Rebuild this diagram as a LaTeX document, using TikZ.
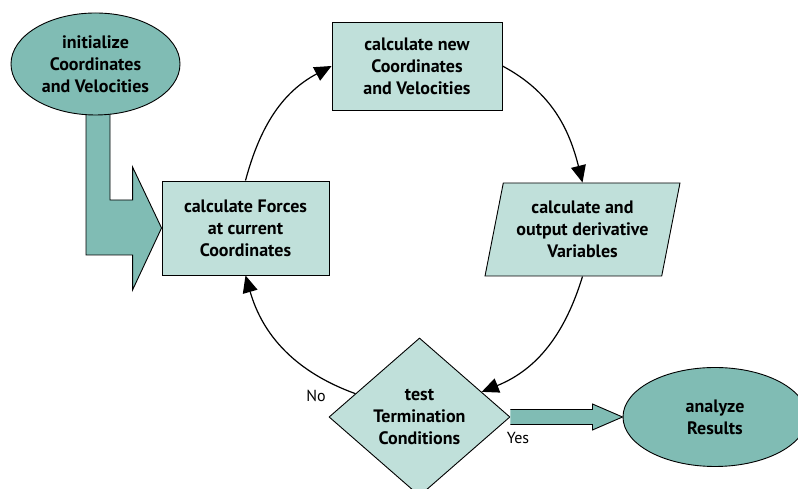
\documentclass[tikz,border=0pt]{standalone}
\usepackage{fontspec}
\setmainfont{PT Sans}
\usetikzlibrary{shapes.geometric,arrows.meta,calc}
\definecolor{darkteal}{RGB}{128,188,180}
\definecolor{lightteal}{RGB}{192,224,218}
\tikzset{
  base/.style={draw=black, line width=0.9pt, align=center, font=\fontsize{18}{22}\selectfont\bfseries, inner sep=0pt},
  oval/.style={base, ellipse, fill=darkteal},
  procbox/.style={base, rectangle, fill=lightteal},
  iobox/.style={base, trapezium, trapezium left angle=75, trapezium right angle=105, trapezium stretches=true, fill=lightteal},
  decision/.style={base, diamond, fill=lightteal},
  flow/.style={draw=black, line width=1.2pt, -{Triangle[length=17pt,width=15pt]}},
  blockarrow/.style={draw=black, line width=0.9pt, fill=darkteal, line join=miter},
  lbl/.style={font=\fontsize{16}{18}\selectfont, inner sep=0pt}
}
\begin{document}
\begin{tikzpicture}[x=1pt,y=1pt]
\useasboundingbox (0,0) rectangle (798,489);
\clip (0,0) rectangle (798,489);
% nodes
\node[procbox, minimum width=167pt, minimum height=94pt] (forces) at (245.5,261) {calculate Forces\\at current\\Coordinates};
\node[procbox, minimum width=170pt, minimum height=88pt] (new) at (417,423) {calculate new\\Coordinates\\and Velocities};
\node[iobox, minimum width=195pt, minimum height=93pt] (par) at (582.5,259.5) {calculate and\\output derivative\\Variables};
\node[decision, minimum width=181pt, minimum height=158pt] (diam) at (419.5,72) {test\\Termination\\Conditions};
% L-shaped block arrow from init to forces
\path (forces.west) coordinate (tipL);
\draw[blockarrow] (86,400) -- (110,400) -- (110,289) -- ($(tipL)+(-29,28)$) -- ($(tipL)+(-29,61)$) -- (tipL) -- ($(tipL)+(-29,-62)$) -- ($(tipL)+(-29,-27)$) -- (86,234) -- cycle;
\node[oval, minimum width=169pt, minimum height=102pt] (init) at (95.5,425) {initialize\\Coordinates\\and Velocities};
\node[oval, minimum width=184pt, minimum height=99pt] (ana) at (715,72) {analyze\\Results};
% Yes block arrow
\draw[blockarrow] ($(diam.east)+(0,7.5)$) -- ($(diam.east)+(82,7.5)$) -- ($(diam.east)+(82,13)$) -- (ana.west) -- ($(diam.east)+(82,-13)$) -- ($(diam.east)+(82,-7.5)$) -- ($(diam.east)+(0,-7.5)$);
% cycle arcs
\draw[flow] (forces.north) to[out=75, in=208] (new.west);
\draw[flow] (new.east) to[out=332, in=104] (par.north);
\draw[flow] (par.south) to[out=253, in=22] (diam.22);
\draw[flow] (diam.160) to[out=160, in=286] (forces.south);
% labels
\node[lbl] (no) at (316,93) {No};
\node[lbl] (yes) at (518,51) {Yes};
\end{tikzpicture}
\end{document}
